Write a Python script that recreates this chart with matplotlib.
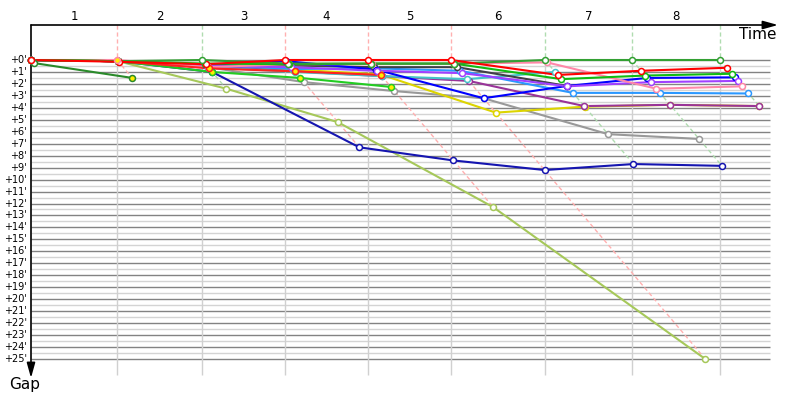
import numpy as np
import matplotlib.pyplot as plt

# --- race data: leader's cumulative time per lap (minutes) and gaps per driver ---
laps = [1, 2, 3, 4, 5, 6, 7, 8]
leader_time = [0, 8.46, 16.81, 24.98, 33.14, 41.30, 50.54, 59.09, 67.75]
lap_leader = ['pink', 'forest', 'red', 'red', 'red', 'forest', 'forest', 'forest']

# gap to leader (minutes) at start (lap 0) and after each lap; list ends when the driver stops
gap_yellowgreen = [0, 0.1, 2.4, 5.2, 12.3, 25.0]
gap_navy = [0, 0.1, 1.0, 7.3, 8.4, 9.2, 8.7, 8.85]
gap_gray = [0, 0.1, 0.6, 1.85, 2.6, 3.2, 6.2, 6.6]
gap_yellow = [0, 0.1, 0.5, 0.8, 1.2, 4.4, 3.9, 3.75, 3.85]
gap_purple = [0, 0.1, 0.5, 0.95, 1.35, 1.75, 3.85, 3.75, 3.85]
gap_cyan = [0, 0.1, 0.6, 1.0, 1.35, 1.6, 1.0]
gap_lightblue = [0, 0.1, 0.4, 0.75, 0.7, 0.9, 2.75, 2.75, 2.8]
gap_darkgray = [0, 0.1, 0.5, 0.45, 0.6, 0.6, 2.17]
gap_blue = [0, 0.1, 0.4, 0.1, 0.8, 3.2, 2.17, 1.5, 1.45]
gap_violet = [0, 0.1, 0.5, 0.6, 0.9, 1.1, 2.2, 1.85, 1.75]
gap_red = [0, 0.15, 0.35, 0, 0, 0, 1.25, 0.9, 0.65]
gap_pink = [0, 0, 0.6, 0.35, 0.35, 0.3, 0.2, 2.4, 2.2]
gap_lime = [0, 0.1, 1.0, 1.5, 2.25]
gap_red2 = [0, 0.1, 0.7, 0.95, 1.25]
gap_green = [0, 0.1, 0.3, 0.35, 0.3, 0.3, 1.6, 1.3, 1.15]
gap_forest = [0, 0.1, 0, 0.3, 0.3, 0.3, 0, 0, 0]
gap_darkgreen = [0.25, 1.5]

# laps where the marker is drawn with a yellow fill
yellow_marks = {
    'pink': [1], 'darkgreen': [1], 'lime': [2, 3, 4], 'red2': [2, 3, 4],
    'lightblue': [3],
}

colors = {
    'yellowgreen': '#a6c85a', 'navy': '#1515b0', 'gray': '#999999',
    'yellow': '#dcd400', 'purple': '#993399', 'cyan': '#44c4c8',
    'lightblue': '#2a98ff', 'darkgray': '#404048', 'blue': '#0000ff',
    'violet': '#a040ff', 'pink': '#ff88a8', 'lime': '#22cc22',
    'red2': '#ff2020', 'green': '#11bb11', 'forest': '#33a033',
    'darkgreen': '#2a8a2a', 'red': '#ff0000',
}
dash_colors = {'pink': '#ffb0b0', 'red': '#ffb0b0', 'forest': '#b0dcb0'}

gaps_by_driver = {
    'yellowgreen': gap_yellowgreen, 'navy': gap_navy, 'gray': gap_gray,
    'yellow': gap_yellow, 'purple': gap_purple, 'cyan': gap_cyan,
    'lightblue': gap_lightblue, 'darkgray': gap_darkgray, 'blue': gap_blue,
    'violet': gap_violet, 'red': gap_red, 'pink': gap_pink, 'lime': gap_lime,
    'red2': gap_red2, 'green': gap_green, 'forest': gap_forest,
    'darkgreen': gap_darkgreen,
}
# drawing order (later on top); red leader line drawn last
line_order = ['yellowgreen', 'navy', 'gray', 'yellow', 'purple', 'cyan', 'lightblue',
              'darkgray', 'blue', 'violet', 'pink', 'lime', 'red2', 'green', 'forest',
              'darkgreen', 'red']

# --- layout: pixels per minute in x and y, origin of the chart ---
px_x, px_y = 10.17, 11.96
x0_px, y0_px = 31, 60
W, H = 800, 400

fig = plt.figure(figsize=(8, 4), dpi=100)
ax = fig.add_axes([0, 0, 1, 1])
ax.set_xlim(-x0_px / px_x, (W - x0_px) / px_x)
ax.set_ylim((H - y0_px) / px_y, -y0_px / px_y)
ax.axis('off')

x_end = (770 - x0_px) / px_x
y_top = (25 - y0_px) / px_y
y_bottom = (375 - y0_px) / px_y

# horizontal grid: half minutes light, whole minutes darker
for g in np.arange(0, 25.01, 0.5):
    major = float(g).is_integer()
    ax.hlines(g, 0, x_end, color='#838383' if major else '#d4d4d4', lw=1.0, zorder=1)
    if major:
        ax.text(-4 / px_x, g, "+%d'" % g, ha='right', va='center', fontsize=7)

# vertical lap lines
ax.vlines(leader_time[1:], 0, y_bottom, color='#d0d0d0', lw=1.0, zorder=1)

# lap number labels
for i, lap in enumerate(laps):
    xm = (leader_time[i] + leader_time[i + 1]) / 2
    ax.text(xm, (17 - y0_px) / px_y, str(lap), ha='center', va='center', fontsize=8.5)

# dashed lines: leader's lap crossing and the diagonal through each car's crossing
for i, lap in enumerate(laps):
    t = leader_time[lap]
    c = dash_colors[lap_leader[i]]
    gmax = max(g[lap] for g in gaps_by_driver.values() if len(g) > lap)
    ax.plot([t, t], [y_top, 0], color=c, lw=1.0, ls=(0, (3, 2)), zorder=2)
    ax.plot([t, t + gmax], [0, gmax], color=c, lw=1.0, ls=(0, (3, 2)), zorder=2)

# driver lines
for z, name in enumerate(line_order):
    gaps = gaps_by_driver[name]
    xs = [leader_time[k] + g for k, g in enumerate(gaps)]
    ax.plot(xs, gaps, color=colors[name], lw=1.5, zorder=3 + z * 0.01,
            solid_capstyle='round')
# markers; the lap leader's marker (gap 0) sits on top
for z, name in enumerate(line_order):
    for k, g in enumerate(gaps_by_driver[name]):
        fc = '#ffee00' if k in yellow_marks.get(name, []) else 'white'
        zo = (5 if g == 0 and k > 0 else 4) + z * 0.01
        ax.plot(leader_time[k] + g, g, 'o', ms=4.3, mfc=fc, mec=colors[name],
                mew=1.1, zorder=zo, clip_on=False)

# axes arrows
ax.annotate('', xy=((778 - x0_px) / px_x, y_top), xytext=(0, y_top),
            arrowprops=dict(arrowstyle='-|>,head_length=0.9,head_width=0.25',
                            color='black', lw=1.2, shrinkA=0, shrinkB=0))
ax.annotate('', xy=(0, (378 - y0_px) / px_y), xytext=(0, y_top),
            arrowprops=dict(arrowstyle='-|>,head_length=0.9,head_width=0.25',
                            color='black', lw=1.2, shrinkA=0, shrinkB=0))
ax.text((777 - x0_px) / px_x, (27 - y0_px) / px_y, 'Time', ha='right', va='top', fontsize=11)
ax.text((25 - x0_px) / px_x, (385 - y0_px) / px_y, 'Gap', ha='center', va='center', fontsize=11)

fig.savefig('out.png', dpi=100)
